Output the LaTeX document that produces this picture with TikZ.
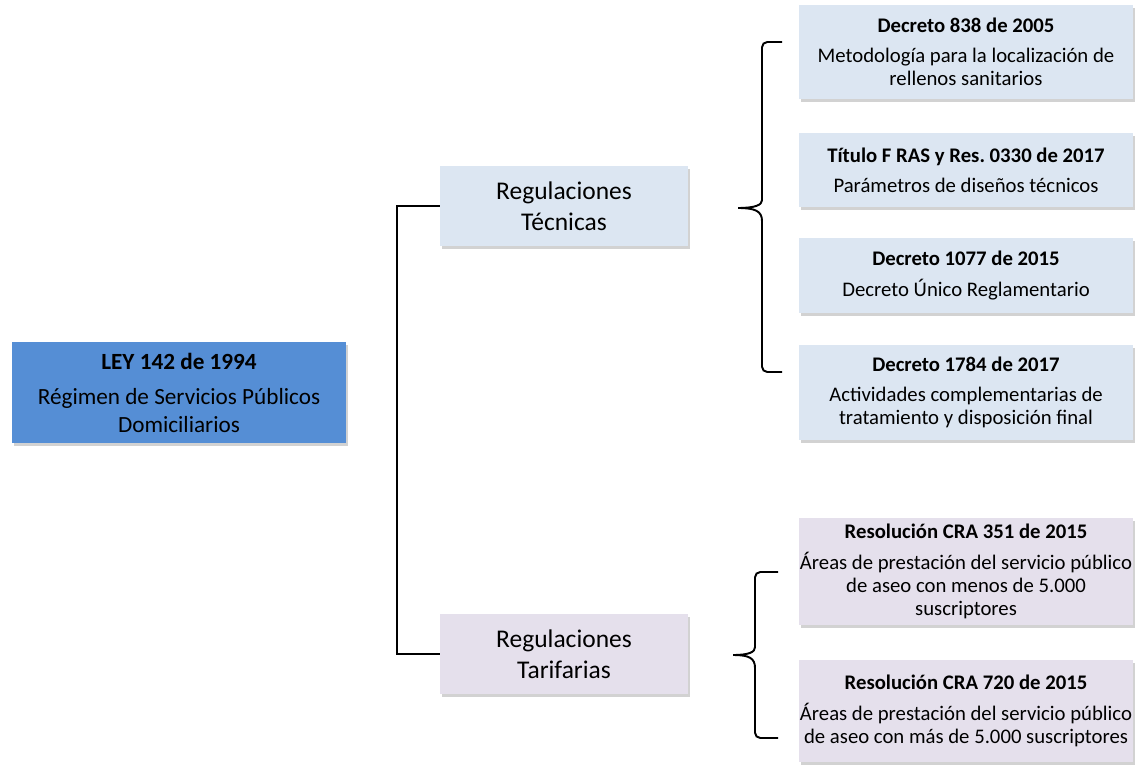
\documentclass[tikz,border=0pt]{standalone}
\usepackage{fontspec}
\setmainfont{Carlito}
\usetikzlibrary{shadows}
\definecolor{leyblue}{RGB}{85,142,213}
\definecolor{tecblue}{RGB}{220,230,242}
\definecolor{tarlilac}{RGB}{229,224,236}

\begin{document}
\begin{tikzpicture}[
  box/.style={align=center, inner sep=0pt, drop shadow={shadow xshift=0.03cm, shadow yshift=-0.06cm, fill=black!35, opacity=0.5}},
  leybox/.style={box, fill=leyblue, minimum width=6.68cm, minimum height=2.02cm, font=\fontsize{13.2}{15.4}\selectfont},
  regbox/.style={box, minimum width=4.96cm, minimum height=1.6cm, font=\fontsize{14.5}{17.6}\selectfont},
  normbox/.style={box, minimum width=6.68cm, font=\fontsize{11.8}{13.2}\selectfont},
  link/.style={line width=1.1pt},
  bracket/.style={line width=1.1pt, rounded corners=3pt}
]
\useasboundingbox (0,0) rectangle (22.7,-15.34);

\node[leybox] (ley) at (3.58,-7.85) {\textbf{LEY 142 de 1994}\\[5pt] Régimen de Servicios Públicos\\ Domiciliarios};

\node[regbox, fill=tecblue] (reg_tecnicas) at (11.28,-4.12) {Regulaciones\\ Técnicas};
\node[regbox, fill=tarlilac] (reg_tarifarias) at (11.28,-13.08) {Regulaciones\\ Tarifarias};

\node[normbox, fill=tecblue, minimum height=1.88cm] (decreto_838) at (19.32,-1.04) {\textbf{Decreto 838 de 2005}\\[4pt] Metodología para la localización de\\ rellenos sanitarios};
\node[normbox, fill=tecblue, minimum height=1.48cm] (titulo_f) at (19.32,-3.40) {\textbf{Título F RAS y Res.\ 0330 de 2017}\\[4pt] Parámetros de diseños técnicos};
\node[normbox, fill=tecblue, minimum height=1.5cm] (decreto_1077) at (19.32,-5.51) {\textbf{Decreto 1077 de 2015}\\[4pt] Decreto Único Reglamentario};
\node[normbox, fill=tecblue, minimum height=1.9cm] (decreto_1784) at (19.32,-7.85) {\textbf{Decreto 1784 de 2017}\\[4pt] Actividades complementarias de\\ tratamiento y disposición final};

\node[normbox, fill=tarlilac, minimum height=2.14cm] (cra_351) at (19.32,-11.43) {\textbf{Resolución CRA 351 de 2015}\\[4pt] Áreas de prestación del servicio público\\ de aseo con menos de 5.000\\ suscriptores};
\node[normbox, fill=tarlilac, minimum height=2.04cm] (cra_720) at (19.32,-14.22) {\textbf{Resolución CRA 720 de 2015}\\[4pt] Áreas de prestación del servicio público\\ de aseo con más de 5.000 suscriptores};

\draw[link] (reg_tecnicas.west) -- ++(-0.86,0) |- (reg_tarifarias.west);

\draw[bracket] (15.64,-0.84) -- (15.24,-0.84) -- (15.24,-3.9) [sharp corners] .. controls (15.24,-4.1) and (15.1,-4.16) .. (14.76,-4.16)
  .. controls (15.1,-4.16) and (15.24,-4.22) .. (15.24,-4.42) [rounded corners=3pt] -- (15.24,-7.44) -- (15.64,-7.44);
\draw[bracket] (15.56,-11.44) -- (15.1,-11.44) -- (15.1,-12.84) [sharp corners] .. controls (15.1,-13.04) and (14.98,-13.1) .. (14.66,-13.1)
  .. controls (14.98,-13.1) and (15.1,-13.16) .. (15.1,-13.36) [rounded corners=3pt] -- (15.1,-14.76) -- (15.56,-14.76);
\end{tikzpicture}
\end{document}
